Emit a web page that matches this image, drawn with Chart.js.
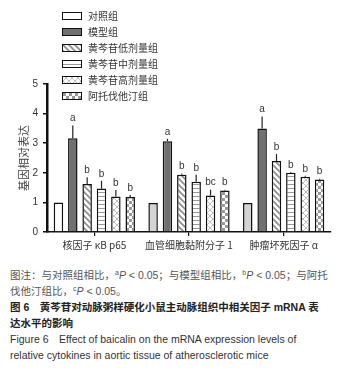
<!DOCTYPE html>
<html>
<head>
<meta charset="utf-8">
<script src="https://cdn.jsdelivr.net/npm/chart.js@4"></script>
<style>
  body { margin: 0; background: #fff; width: 360px; height: 371px; overflow: hidden; position: relative; }
  #wrap { position: absolute; left: 0; top: 0; width: 360px; height: 260px; }
  #caption { position: absolute; left: 10px; top: 267px; font-family: 'Liberation Sans', 'Noto Sans CJK SC', sans-serif; font-size: 10.5px; line-height: 16px; color: #333; white-space: nowrap; }
  .note { color: #555; }
  .title { font-weight: bold; color: #222; }
  sup { font-size: 7px; vertical-align: 4px; line-height: 0; }
</style>
</head>
<body>
<div id="wrap"><canvas id="chart" width="360" height="260"></canvas></div>
<div id="caption">
  <div class="note">图注：与对照组相比，<sup>a</sup><i>P</i> &lt; 0.05；与模型组相比，<sup>b</sup><i>P</i> &lt; 0.05；与阿托</div>
  <div class="note">伐他汀组比，<sup>c</sup><i>P</i> &lt; 0.05。</div>
  <div class="title">图 6　黄芩苷对动脉粥样硬化小鼠主动脉组织中相关因子 mRNA 表</div>
  <div class="title">达水平的影响</div>
  <div>Figure 6　Effect of baicalin on the mRNA expression levels of</div>
  <div>relative cytokines in aortic tissue of atherosclerotic mice</div>
</div>
<script>
// categories and groups
const categories = ['核因子 κB p65', '血管细胞黏附分子 1', '肿瘤坏死因子 α']
const groups = ['对照组', '模型组', '黄芩苷低剂量组', '黄芩苷中剂量组', '黄芩苷高剂量组', '阿托伐他汀组']

// mean values per group
const control = [1.0, 0.98, 0.98]
const model = [3.17, 3.07, 3.5]
const lowDose = [1.62, 1.93, 2.4]
const midDose = [1.47, 1.7, 2.0]
const highDose = [1.2, 1.23, 1.87]
const atorva = [1.18, 1.4, 1.77]

// error bars (upper only)
const controlErr = [0, 0, 0]
const modelErr = [0.43, 0.08, 0.4]
const lowErr = [0.23, 0.05, 0.23]
const midErr = [0.26, 0.23, 0.03]
const highErr = [0.22, 0.2, 0.03]
const atorvaErr = [0.07, 0.03, 0.03]

// significance letters
const controlSig = ['', '', '']
const modelSig = ['a', 'a', 'a']
const lowSig = ['b', 'b', 'b']
const midSig = ['b', 'b', 'b']
const highSig = ['b', 'bc', 'b']
const atorvaSig = ['b', 'b', 'b']

const yTicks = [0, 1, 2, 3, 4, 5]

// make fill patterns
function makePattern(size, draw) {
  const c = document.createElement('canvas')
  c.width = size; c.height = size
  const g = c.getContext('2d')
  g.fillStyle = '#fff'
  g.fillRect(0, 0, size, size)
  draw(g)
  return document.getElementById('chart').getContext('2d').createPattern(c, 'repeat')
}

const diagPattern = makePattern(6, g => {
  g.strokeStyle = '#8a8a8a'; g.lineWidth = 1.6
  g.beginPath()
  g.moveTo(-1, -1); g.lineTo(7, 7)
  g.moveTo(-1, 5); g.lineTo(1, 7)
  g.moveTo(5, -1); g.lineTo(7, 1)
  g.stroke()
})
const horizPattern = makePattern(4, g => {
  g.strokeStyle = '#9a9a9a'; g.lineWidth = 1
  g.beginPath(); g.moveTo(0, 0.5); g.lineTo(4, 0.5); g.stroke()
})
const crossPattern = makePattern(6, g => {
  g.strokeStyle = '#b0b0b0'; g.lineWidth = 0.8
  g.beginPath()
  g.moveTo(0, 0); g.lineTo(6, 6)
  g.moveTo(6, 0); g.lineTo(0, 6)
  g.stroke()
})
const checkPattern = makePattern(6, g => {
  g.fillStyle = '#9a9a9a'
  g.fillRect(0, 0, 3, 3)
  g.fillRect(3, 3, 3, 3)
})

const values = [control, model, lowDose, midDose, highDose, atorva]
const errors = [controlErr, modelErr, lowErr, midErr, highErr, atorvaErr]
const sigs = [controlSig, modelSig, lowSig, midSig, highSig, atorvaSig]
const fills = [['#ffffff', '#d4d4d4', '#d4d4d4'], '#707070', diagPattern, horizPattern, crossPattern, checkPattern]

const datasets = []
for (let i = 0; i < groups.length; i++) {
  datasets.push({
    label: groups[i],
    data: values[i],
    backgroundColor: fills[i],
    borderColor: '#111',
    borderWidth: 1.5,
    barPercentage: 0.66,
    categoryPercentage: 0.91
  })
}

// error bars, letters and legend
const extras = {
  id: 'extras',
  afterDatasetsDraw(chart) {
    const ctx = chart.ctx
    const y = chart.scales.y
    ctx.save()
    chart.data.datasets.forEach((ds, i) => {
      const meta = chart.getDatasetMeta(i)
      meta.data.forEach((bar, j) => {
        const err = errors[i][j]
        let top = bar.y
        if (err > 0) {
          top = y.getPixelForValue(ds.data[j] + err)
          ctx.strokeStyle = '#222'
          ctx.lineWidth = 1.2
          ctx.beginPath()
          ctx.moveTo(bar.x, bar.y)
          ctx.lineTo(bar.x, top)
          ctx.stroke()
        }
        if (sigs[i][j]) {
          ctx.fillStyle = '#333'
          ctx.font = "10px 'Liberation Sans', sans-serif"
          ctx.textAlign = 'center'
          ctx.textBaseline = 'bottom'
          ctx.fillText(sigs[i][j], bar.x, top - 2)
        }
      })
    })
    // legend
    chart.data.datasets.forEach((ds, i) => {
      const yc = 15 + i * 16
      const bg = Array.isArray(ds.backgroundColor) ? ds.backgroundColor[0] : ds.backgroundColor
      ctx.fillStyle = bg
      ctx.fillRect(62, yc - 3, 19, 7)
      ctx.strokeStyle = '#111'
      ctx.lineWidth = 1
      ctx.strokeRect(62.5, yc - 2.5, 19, 7)
      ctx.fillStyle = '#333'
      ctx.font = "10px 'Noto Sans CJK SC', sans-serif"
      ctx.textAlign = 'left'
      ctx.textBaseline = 'middle'
      ctx.fillText(ds.label, 88, yc + 1)
    })
    ctx.restore()
  }
}

Chart.defaults.font.family = "'Liberation Sans', 'Noto Sans CJK SC', sans-serif"
Chart.defaults.color = '#333'

new Chart(document.getElementById('chart'), {
  type: 'bar',
  data: { labels: categories, datasets: datasets },
  options: {
    responsive: false,
    animation: false,
    layout: { padding: { top: 84, right: 29, left: 0, bottom: 0 } },
    plugins: { legend: { display: false }, tooltip: { enabled: false } },
    scales: {
      x: {
        grid: { drawOnChartArea: false, drawTicks: true, tickLength: 4, color: '#111', lineWidth: 1.2, offset: false },
        border: { display: true, color: '#111', width: 1.5 },
        ticks: { font: { size: 10, family: "'Noto Sans CJK SC', sans-serif" }, color: '#333', padding: 3, maxRotation: 0 },
        afterFit(scale) { scale.height = 28 }
      },
      y: {
        min: 0,
        max: 5,
        afterBuildTicks(scale) { scale.ticks = yTicks.map(v => ({ value: v })) },
        grid: { drawOnChartArea: false, drawTicks: true, tickLength: 4, color: '#111', lineWidth: 1.5 },
        border: { display: true, color: '#111', width: 2.5 },
        ticks: { font: { size: 10 }, color: '#333', padding: 5 },
        title: { display: true, text: '基因相对表达', font: { size: 11, family: "'Noto Sans CJK SC', sans-serif" }, color: '#444', padding: { top: 17, bottom: 0 } },
        afterFit(scale) { scale.width = 47 }
      }
    }
  },
  plugins: [extras]
})
</script>
</body>
</html>
